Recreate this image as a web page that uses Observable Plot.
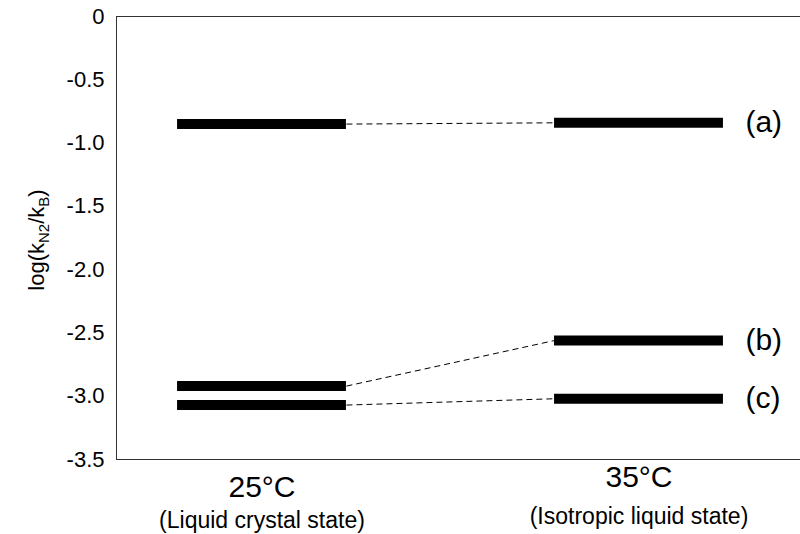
<!DOCTYPE html>
<html><head><meta charset="utf-8">
<script src="https://cdn.jsdelivr.net/npm/d3@7"></script>
<script src="https://cdn.jsdelivr.net/npm/@observablehq/plot@0.6"></script>
<style>body{margin:0;background:#fff;font-family:"Liberation Sans",Arial,sans-serif}</style>
</head><body><div id="chart"></div>
<script>
const temps = [25, 35];
const tempLabels = ["25°C", "35°C"];
const stateLabels = ["(Liquid crystal state)", "(Isotropic liquid state)"];
const seriesNames = ["(a)", "(b)", "(c)"];
const at25 = [-0.85, -2.92, -3.07];
const at35 = [-0.84, -2.56, -3.02];
const yTicks = [0, -0.5, -1.0, -1.5, -2.0, -2.5, -3.0, -3.5];

const half = 2.24; // half bar width in °C units
const levels = [];
seriesNames.forEach((n, i) => {
  levels.push({name: n, temp: temps[0], value: at25[i]});
  levels.push({name: n, temp: temps[1], value: at35[i]});
});
const links = seriesNames.map((n, i) => ({name: n, y1: at25[i], y2: at35[i]}));
const xLab = temps.map((t, i) => ({temp: t, label: tempLabels[i], state: stateLabels[i]}));
const ends = seriesNames.map((n, i) => ({name: n, value: at35[i]}));

const chart = Plot.plot({
  width: 800, height: 534,
  marginLeft: 116, marginRight: 0, marginTop: 16, marginBottom: 75,
  style: {fontFamily: "'Liberation Sans', Arial, sans-serif", background: "#fff"},
  x: {domain: [25, 35], range: [261.5, 638.5], axis: null},
  y: {domain: [-3.5, 0], axis: null},
  marks: [
    Plot.ruleY([0, -3.5], {stroke: "#333", strokeWidth: 1}),
    Plot.frame({anchor: "left", stroke: "#333", strokeWidth: 1}),
    Plot.axisY({ticks: yTicks, tickSize: 0, tickPadding: 12, fontSize: 22, label: null,
      tickFormat: d => d === 0 ? "0" : d.toFixed(1), fill: "#000"}),
    Plot.link(links, {x1: () => temps[0] + half, x2: () => temps[1] - half, y1: "y1", y2: "y2",
      stroke: "#000", strokeWidth: 1, strokeDasharray: "6,4"}),
    Plot.ruleY(levels, {y: "value", x1: d => d.temp - half, x2: d => d.temp + half, stroke: "#000", strokeWidth: 10}),
    Plot.text(ends, {x: () => temps[1] + half, y: "value", text: "name", dx: 22, textAnchor: "start", fontSize: 30, fill: "#000"}),
    Plot.text(xLab.filter(d => d.temp === 25), {x: "temp", frameAnchor: "bottom", dy: 37, text: "label", fontSize: 30, fill: "#000"}),
    Plot.text(xLab.filter(d => d.temp === 35), {x: "temp", frameAnchor: "bottom", dy: 27, text: "label", fontSize: 30, fill: "#000"}),
    Plot.text(xLab.filter(d => d.temp === 25), {x: "temp", frameAnchor: "bottom", dy: 68, text: "state", fontSize: 23, fill: "#000"}),
    Plot.text(xLab.filter(d => d.temp === 35), {x: "temp", frameAnchor: "bottom", dy: 64, text: "state", fontSize: 23, fill: "#000"})
  ]
});
document.getElementById("chart").appendChild(chart);

const svg = d3.select(chart);
const lab = svg.append("text")
  .attr("transform", "translate(44,240) rotate(-90)")
  .attr("text-anchor", "middle")
  .attr("font-size", 22)
  .attr("fill", "#000");
lab.append("tspan").text("log(k");
lab.append("tspan").attr("font-size", 15).attr("dy", 5).text("N2");
lab.append("tspan").attr("dy", -5).text("/k");
lab.append("tspan").attr("font-size", 15).attr("dy", 5).text("B");
lab.append("tspan").attr("dy", -5).text(")");
</script></body></html>
